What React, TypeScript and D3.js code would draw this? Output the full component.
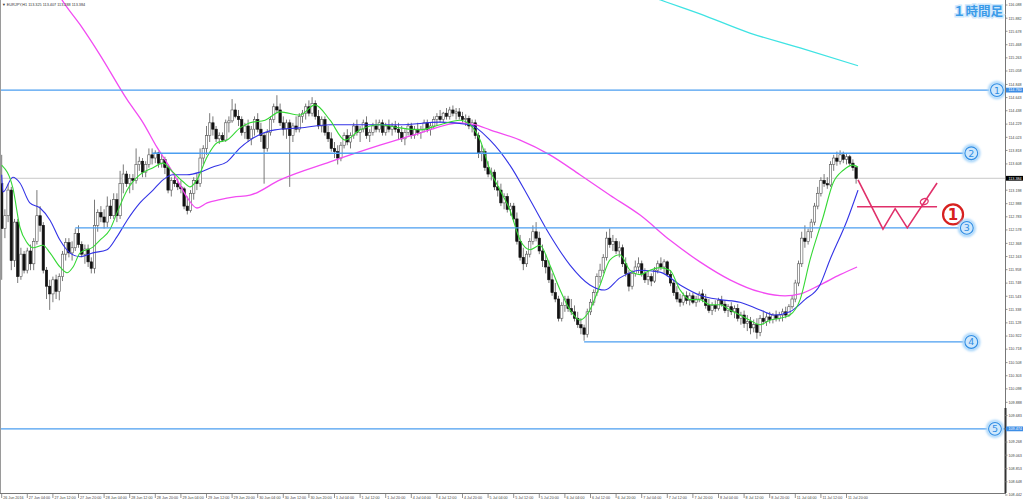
import React from 'react';
import * as d3 from 'd3';

type C = [number, number, number, number];

// ---- hourly candles (open, high, low, close) ----
const jun26: C[] = [
  [113.30,113.75,111.80,112.60],[112.60,112.90,112.45,112.80],[112.80,113.30,112.70,113.20],[113.20,113.25,111.95,112.10],
];
const jun27: C[] = [
  [112.10,112.75,112.00,112.70],[112.70,112.75,111.75,111.85],[111.85,112.30,111.80,112.20],[112.20,112.25,111.90,111.95],
  [111.95,112.30,111.90,112.25],[112.25,112.35,111.95,112.05],[112.05,112.45,111.95,112.40],[112.40,113.20,112.35,112.80],
  [112.80,112.95,112.55,112.65],[112.65,112.70,111.90,111.95],[111.95,112.00,111.50,111.70],[111.70,111.80,111.33,111.58],
  [111.58,111.85,111.45,111.80],[111.80,111.88,111.50,111.62],[111.62,111.90,111.48,111.85],[111.85,112.25,111.78,112.20],
  [112.20,112.45,112.10,112.38],[112.38,112.45,112.15,112.22],[112.22,112.40,112.10,112.30],[112.30,112.60,112.25,112.52],
  [112.52,112.65,112.30,112.35],[112.35,112.40,112.15,112.20],[112.20,112.35,112.05,112.28],[112.28,112.35,112.00,112.08],
];
const jun28: C[] = [
  [112.08,112.15,111.90,111.98],[111.98,113.05,111.90,112.65],[112.65,112.90,112.55,112.85],[112.85,112.95,112.70,112.78],
  [112.78,112.90,112.60,112.70],[112.70,113.10,112.62,112.95],[112.95,113.05,112.75,112.80],[112.80,113.15,112.75,113.05],
  [113.05,113.15,112.70,112.80],[112.80,113.50,112.75,113.30],[113.30,113.60,113.15,113.45],[113.45,113.50,113.25,113.30],
  [113.30,113.45,113.15,113.38],[113.38,113.45,113.20,113.35],[113.35,113.85,113.30,113.60],[113.60,113.72,113.50,113.65],
  [113.65,113.70,113.40,113.48],[113.48,113.65,113.40,113.60],[113.60,113.85,113.55,113.75],[113.75,113.85,113.60,113.70],
  [113.70,113.82,113.62,113.78],[113.78,113.80,113.55,113.62],[113.62,113.75,113.55,113.68],[113.68,113.72,113.45,113.55],
];
const jun29: C[] = [
  [113.55,113.60,113.15,113.20],[113.20,113.40,113.10,113.35],[113.35,113.45,113.25,113.30],[113.30,113.38,113.20,113.25],
  [113.25,113.35,113.15,113.22],[113.22,113.25,112.90,112.95],[112.95,113.10,112.82,112.88],[112.88,113.20,112.85,113.15],
  [113.15,113.40,113.05,113.35],[113.35,113.45,113.20,113.30],[113.30,113.85,113.25,113.70],[113.70,113.90,113.60,113.85],
  [113.85,114.20,113.75,114.05],[114.05,114.40,113.95,114.25],[114.25,114.35,114.05,114.15],[114.15,114.20,113.95,114.00],
  [114.00,114.10,113.92,114.05],[114.05,114.10,113.95,113.98],[113.98,114.30,113.95,114.25],[114.25,114.35,114.10,114.28],
  [114.28,114.62,114.25,114.45],[114.45,114.55,114.32,114.35],[114.35,114.45,114.20,114.30],[114.30,114.35,114.05,114.10],
];
const jun30: C[] = [
  [114.10,114.25,114.00,114.20],[114.20,114.30,113.95,114.00],[114.00,114.20,113.90,114.15],[114.15,114.35,114.05,114.30],
  [114.30,114.40,114.10,114.15],[114.15,114.25,113.95,114.05],[114.05,114.10,113.30,113.85],[113.85,114.15,113.80,114.10],
  [114.10,114.35,114.05,114.30],[114.30,114.55,114.25,114.50],[114.50,114.68,114.40,114.45],[114.45,114.55,114.20,114.25],
  [114.25,114.35,114.05,114.15],[114.15,114.30,114.00,114.25],[114.25,114.30,113.25,114.05],[114.05,114.25,113.95,114.20],
  [114.20,114.35,114.10,114.15],[114.15,114.40,114.10,114.35],[114.35,114.45,114.25,114.40],[114.40,114.55,114.30,114.50],
  [114.50,114.60,114.35,114.40],[114.40,114.65,114.35,114.55],[114.55,114.60,114.30,114.35],[114.35,114.45,114.15,114.20],
];
const jul1: C[] = [
  [114.20,114.35,114.10,114.30],[114.30,114.35,114.05,114.10],[114.10,114.20,113.95,114.00],[114.00,114.10,113.80,113.85],
  [113.85,113.95,113.70,113.80],[113.80,113.90,113.60,113.70],[113.70,113.95,113.65,113.90],[113.90,114.10,113.85,114.05],
  [114.05,114.15,113.90,113.95],[113.95,114.10,113.85,114.05],[114.05,114.25,114.00,114.20],[114.20,114.30,114.05,114.10],
  [114.10,114.20,113.95,114.15],[114.15,114.30,114.10,114.25],[114.25,114.35,114.00,114.05],[114.05,114.15,113.95,114.10],
  [114.10,114.25,114.05,114.20],[114.20,114.30,114.10,114.15],[114.15,114.30,114.10,114.25],[114.25,114.30,114.05,114.10],
  [114.10,114.25,114.05,114.20],[114.20,114.30,114.10,114.15],[114.15,114.25,114.05,114.20],[114.20,114.28,114.10,114.15],
];
const jul4: C[] = [
  [114.15,114.25,113.98,114.10],[114.10,114.20,113.95,114.00],[114.00,114.15,113.90,114.10],[114.10,114.25,114.05,114.20],
  [114.20,114.25,114.00,114.05],[114.05,114.20,114.00,114.15],[114.15,114.25,114.05,114.10],[114.10,114.20,114.00,114.15],
  [114.15,114.30,114.10,114.25],[114.25,114.30,114.10,114.15],[114.15,114.25,114.05,114.20],[114.20,114.35,114.15,114.30],
  [114.30,114.40,114.20,114.35],[114.35,114.45,114.25,114.30],[114.30,114.42,114.25,114.40],[114.40,114.48,114.30,114.35],
  [114.35,114.50,114.30,114.45],[114.45,114.52,114.35,114.40],[114.40,114.48,114.30,114.42],[114.42,114.48,114.30,114.35],
  [114.35,114.42,114.25,114.30],[114.30,114.38,114.20,114.32],[114.32,114.36,114.15,114.20],[114.20,114.30,114.10,114.25],
];
const jul5: C[] = [
  [114.25,114.30,114.00,114.05],[114.05,114.10,113.70,113.78],[113.78,113.90,113.65,113.80],[113.80,113.85,113.50,113.55],
  [113.55,113.65,113.40,113.45],[113.45,113.55,113.35,113.48],[113.48,113.52,113.20,113.25],[113.25,113.35,113.10,113.20],
  [113.20,113.30,112.95,113.00],[113.00,113.15,112.90,113.10],[113.10,113.15,112.85,112.90],[112.90,113.00,112.80,112.95],
  [112.95,113.00,112.70,112.75],[112.75,112.85,112.35,112.40],[112.40,112.50,112.10,112.15],[112.15,112.30,111.95,112.05],
  [112.05,112.25,112.00,112.20],[112.20,112.45,112.15,112.40],[112.40,112.65,112.35,112.55],[112.55,112.70,112.40,112.45],
  [112.45,112.55,112.20,112.25],[112.25,112.35,112.00,112.10],[112.10,112.20,111.90,112.00],[112.00,112.10,111.75,111.80],
];
const jul6: C[] = [
  [111.80,111.90,111.55,111.60],[111.60,111.75,111.45,111.50],[111.50,111.55,111.15,111.20],[111.20,111.45,111.15,111.40],
  [111.40,111.55,111.30,111.50],[111.50,111.55,111.30,111.35],[111.35,111.50,111.25,111.30],[111.30,111.40,111.15,111.20],
  [111.20,111.30,111.05,111.10],[111.10,111.20,110.95,111.05],[111.05,111.10,110.85,110.95],[110.95,111.35,110.90,111.30],
  [111.30,111.50,111.25,111.45],[111.45,111.65,111.40,111.60],[111.60,111.90,111.55,111.85],[111.85,112.05,111.75,111.95],
  [111.95,112.20,111.90,112.15],[112.15,112.55,112.10,112.45],[112.45,112.60,112.30,112.35],[112.35,112.50,112.25,112.40],
  [112.40,112.45,112.20,112.25],[112.25,112.40,112.15,112.30],[112.30,112.35,112.00,112.05],[112.05,112.15,111.85,111.90],
];
const jul7: C[] = [
  [111.90,111.95,111.62,111.70],[111.70,111.95,111.65,111.90],[111.90,112.10,111.85,112.00],[112.00,112.15,111.90,112.05],
  [112.05,112.10,111.85,111.90],[111.90,111.98,111.75,111.80],[111.80,111.95,111.72,111.85],[111.85,111.90,111.70,111.78],
  [111.78,112.00,111.75,111.95],[111.95,112.10,111.90,112.05],[112.05,112.15,111.95,112.00],[112.00,112.12,111.90,112.08],
  [112.08,112.10,111.85,111.88],[111.88,111.95,111.70,111.75],[111.75,111.80,111.55,111.60],[111.60,111.70,111.45,111.50],
  [111.50,111.58,111.38,111.45],[111.45,111.60,111.40,111.55],[111.55,111.62,111.42,111.48],[111.48,111.60,111.40,111.55],
  [111.55,111.60,111.42,111.45],[111.45,111.55,111.38,111.50],[111.50,111.62,111.45,111.58],[111.58,111.65,111.45,111.50],
];
const jul8: C[] = [
  [111.50,111.58,111.35,111.40],[111.40,111.50,111.28,111.32],[111.32,111.45,111.25,111.40],[111.40,111.48,111.30,111.35],
  [111.35,111.52,111.32,111.48],[111.48,111.55,111.38,111.42],[111.42,111.48,111.28,111.32],[111.32,111.42,111.22,111.38],
  [111.38,111.45,111.25,111.30],[111.30,111.40,111.20,111.35],[111.35,111.42,111.15,111.20],[111.20,111.30,111.10,111.25],
  [111.25,111.32,111.05,111.12],[111.12,111.25,111.00,111.15],[111.15,111.22,110.95,111.05],[111.05,111.18,110.98,111.10],
  [111.10,111.20,110.88,110.98],[110.98,111.25,110.92,111.20],[111.20,111.30,111.10,111.15],[111.15,111.28,111.08,111.22],
  [111.22,111.30,111.12,111.18],[111.18,111.28,111.12,111.25],[111.25,111.32,111.15,111.20],[111.20,111.30,111.15,111.25],
];
const jul11: C[] = [
  [111.25,111.35,111.15,111.30],[111.30,111.38,111.20,111.25],[111.25,111.42,111.22,111.38],[111.38,111.55,111.35,111.50],
  [111.50,111.80,111.45,111.75],[111.75,112.10,111.70,112.05],[112.05,112.55,112.00,112.45],[112.45,112.65,112.30,112.40],
  [112.40,112.60,112.35,112.55],[112.55,112.75,112.45,112.70],[112.70,113.00,112.65,112.95],[112.95,113.25,112.90,113.15],
  [113.15,113.40,113.10,113.35],[113.35,113.45,113.25,113.30],[113.30,113.40,113.22,113.28],[113.28,113.65,113.25,113.60],
  [113.60,113.75,113.50,113.70],[113.70,113.80,113.58,113.65],[113.65,113.82,113.60,113.75],[113.75,113.80,113.62,113.68],
  [113.68,113.78,113.60,113.72],[113.72,113.75,113.58,113.62],[113.62,113.68,113.50,113.55],[113.55,113.58,113.30,113.38],
];

// ---- moving averages, read as [bar index, price] ----
const maFast: [number, number][] = [
  [0,113.59],[3.5,113.23],[5.7,112.62],[7.9,112.38],[9.8,112.30],[12.9,112.34],[15.1,112.22],[18.2,112.00],[20.4,111.91],
  [22.3,112.00],[24.5,112.22],[28.5,112.31],[30.7,112.42],[33.8,112.58],[36,112.84],[39.2,113.20],[43.2,113.44],[47.3,113.55],
  [50.4,113.62],[53.5,113.48],[56.7,113.33],[58.9,113.25],[61,113.36],[64.2,113.72],[67.3,113.94],[70.4,113.98],[74.5,114.17],
  [77.6,114.25],[82.3,114.29],[87,114.42],[93.2,114.37],[97.9,114.53],[102.6,114.29],[107.3,113.98],[112,114.14],[118.2,114.22],
  [124.5,114.17],[130.7,114.14],[137,114.22],[143.2,114.29],[146.3,114.22],[149.5,113.98],[152.6,113.51],[155.7,113.20],
  [158.8,112.89],[162,112.42],[165.1,112.27],[168.2,112.34],[171.3,112.03],[174.5,111.64],[177.6,111.33],[180.7,111.17],
  [183.8,111.33],[187,111.72],[190.1,112.11],[193.2,112.19],[196.3,111.95],[199.5,111.88],[202.6,111.95],[205.7,111.99],
  [208.8,111.95],[212,111.64],[215.1,111.49],[218.2,111.49],[221.3,111.41],[224.5,111.41],[227.6,111.33],[230.7,111.25],
  [233.8,111.17],[237,111.10],[240.1,111.17],[243.2,111.20],[246.3,111.25],[249.5,111.49],[252.6,112.11],[256.7,112.78],
  [259.8,113.31],[263,113.51],[266,113.59],[267.6,113.56],
];
const maMid: [number, number][] = [
  [0,113.44],[0.4,113.17],[3.5,113.40],[5.7,113.31],[8.8,113.00],[12,112.92],[15.1,112.73],[18.2,112.42],[21.3,112.22],
  [24.5,112.16],[28.5,112.22],[32.9,112.27],[36,112.47],[39.2,112.73],[43.2,113.00],[47.3,113.20],[50.4,113.36],[53.5,113.44],
  [57.9,113.44],[62,113.48],[66,113.56],[70.4,113.64],[74.5,113.86],[77.6,113.98],[85.4,114.14],[93.2,114.17],[102.6,114.22],
  [112,114.22],[124.5,114.22],[137,114.26],[146.3,114.22],[152.6,113.98],[158.8,113.59],[165.1,113.05],[171.3,112.50],
  [177.6,112.03],[183.8,111.72],[188.5,111.64],[193.2,111.83],[199.5,111.95],[205.7,111.92],[212,111.72],[218.2,111.56],
  [224.5,111.49],[230.7,111.45],[237,111.33],[241.7,111.25],[246.3,111.30],[251,111.49],[255.7,111.72],[258.8,112.11],
  [264.2,112.73],[267.6,113.20],
];
const maSlow: [number, number][] = [
  [16.7,116.35],[18.8,116.17],[24.5,115.78],[30.7,115.31],[39.2,114.61],[44.2,114.25],[48.5,113.87],[51.7,113.62],
  [54.8,113.36],[57.9,113.09],[61,112.92],[64.2,113.00],[68.2,113.05],[72.3,113.09],[77.6,113.12],[87,113.36],[102.6,113.64],
  [118.2,113.90],[130.7,114.09],[143.2,114.25],[147.9,114.22],[152.6,114.14],[162,113.98],[171.3,113.75],[180.7,113.44],
  [190.1,113.12],[199.5,112.81],[208.8,112.42],[218.2,112.08],[227.6,111.80],[237,111.61],[244.8,111.55],[249.5,111.58],
  [255.7,111.72],[262,111.88],[267.3,112.00],
];
const maLong: [number, number][] = [
  [199.5,116.29],[205.7,116.17],[218.2,115.95],[233.8,115.65],[249.5,115.42],[267.6,115.14],
];

// ---- levels, annotations ----
const currentPrice = 113.384;
const levelNums = [1, 2, 3, 4, 5];
const levelPrices = [114.76, 113.775, 112.61, 110.83, 109.474];
const levelStart = [null, 47, 23, 182, null];
const levelEnd = [311, 303, 301.6, 303, 310.4];
const levelLabels = ['114.760', '', '', '', '109.474'];

const wPattern: [number, number][] = [[267.6,113.36],[275.4,112.59],[279.2,112.91],[283,112.61],[292.3,113.31]];
const neckline: [number, number][] = [[267.3,112.94],[292.3,112.94]];
const breakMark: [number, number] = [288.3, 113.02];
const redMark: [number, number] = [297.3, 112.82];

// ---- axis texts ----
const priceTicks = ["116.088","115.882","115.678","115.468","115.263","115.058","114.848","114.643","114.438","114.229",
  "114.023","113.818","113.608","113.403","113.198","112.988","112.783","112.578","112.368","112.163","111.958","111.748",
  "111.543","111.338","111.128","110.922","110.718","110.508","110.303","110.098","109.888","109.683","109.473","109.268",
  "109.063","108.853","108.648","108.442"];
const timeTicks = ["26 Jun 2016","27 Jun 04:00","27 Jun 12:00","27 Jun 20:00","28 Jun 04:00","28 Jun 12:00","28 Jun 20:00",
  "29 Jun 04:00","29 Jun 12:00","29 Jun 20:00","30 Jun 04:00","30 Jun 12:00","30 Jun 20:00","1 Jul 04:00","1 Jul 12:00",
  "1 Jul 20:00","4 Jul 04:00","4 Jul 12:00","4 Jul 20:00","5 Jul 04:00","5 Jul 12:00","5 Jul 20:00","6 Jul 04:00",
  "6 Jul 12:00","6 Jul 20:00","7 Jul 04:00","7 Jul 12:00","7 Jul 20:00","8 Jul 04:00","8 Jul 12:00","8 Jul 20:00",
  "11 Jul 04:00","11 Jul 12:00","11 Jul 20:00"];
const barsPerTick = 8;
const headerText = "\u25BC EURJPY,H1  113.325 113.407 113.288 113.384";
const titleText = "１時間足";

export default function App() {
  const candles: C[] = [...jun26, ...jun27, ...jun28, ...jun29, ...jun30, ...jul1, ...jul4, ...jul5, ...jul6, ...jul7, ...jul8, ...jul11];
  const W = 1024, H = 504;
  const axisX = 1005, axisY = 493;
  const x = d3.scaleLinear().domain([0, candles.length - 1]).range([1.7, 1.7 + 3.2 * (candles.length - 1)]);
  const y = d3.scaleLinear().domain([108.442, 116.088]).range([495, 5]);
  const line = d3.line<[number, number]>().x(d => x(d[0])).y(d => y(d[1])).curve(d3.curveMonotoneX);
  const straight = d3.line<[number, number]>().x(d => x(d[0])).y(d => y(d[1]));
  const bodyW = 2.4;
  const font = "'Liberation Sans', Arial, sans-serif";
  const fs = 3.7;
  const hidden = [currentPrice, levelPrices[0], levelPrices[4]];
  const visibleTicks = priceTicks.filter(t => !hidden.some(h => Math.abs(y(+t) - y(h)) < 3.2));

  return (
    <svg width={W} height={H} style={{ position: 'fixed', left: 0, top: 0, background: '#fff' }} xmlns="http://www.w3.org/2000/svg">
      <defs>
        <clipPath id="plot"><rect x={0} y={0} width={axisX} height={axisY} /></clipPath>
        <filter id="glow" x="-50%" y="-50%" width="200%" height="200%">
          <feGaussianBlur stdDeviation="1.2" />
        </filter>
      </defs>
      <rect x={0} y={0} width={W} height={H} fill="#fff" />
      <g clipPath="url(#plot)">
        <line x1={0} x2={axisX} y1={y(currentPrice)} y2={y(currentPrice)} stroke="#c8c8c8" strokeWidth={1} />
        {candles.map((c, i) => {
          const [o, h, l, cl] = c;
          const up = cl >= o;
          const top = y(Math.max(o, cl)), bot = y(Math.min(o, cl));
          const cx = x(i);
          return (
            <g key={i}>
              <line x1={cx} x2={cx} y1={y(h)} y2={y(l)} stroke="#6a6a6a" strokeWidth={0.9} />
              <rect x={cx - bodyW / 2} y={top} width={bodyW} height={Math.max(0.8, bot - top)}
                fill={up ? '#ffffff' : '#111111'} stroke={up ? '#555' : '#111'} strokeWidth={0.6} />
            </g>
          );
        })}
        <path d={line(maLong) || ''} fill="none" stroke="#3fe3e3" strokeWidth={1.3} />
        <path d={line(maSlow) || ''} fill="none" stroke="#f24bf2" strokeWidth={1.3} />
        <path d={line(maMid) || ''} fill="none" stroke="#3333e6" strokeWidth={1.1} />
        <path d={line(maFast) || ''} fill="none" stroke="#35d835" strokeWidth={1.1} />
        {levelPrices.map((p, k) => (
          <line key={'lv' + k} x1={levelStart[k] == null ? 0 : x(levelStart[k] as number)}
            x2={levelStart[k] == null ? axisX : x(levelEnd[k])} y1={y(p)} y2={y(p)} stroke="#4b9ef0" strokeWidth={1.3} />
        ))}
        <path d={straight(neckline) || ''} fill="none" stroke="#e0306a" strokeWidth={1.6} />
        <path d={straight(wPattern) || ''} fill="none" stroke="#e0306a" strokeWidth={1.6} strokeLinejoin="miter" />
        <ellipse cx={x(breakMark[0])} cy={y(breakMark[1])} rx={4} ry={3} fill="none" stroke="#e0306a" strokeWidth={1.3}
          transform={`rotate(-20 ${x(breakMark[0])} ${y(breakMark[1])})`} />
        <circle cx={x(redMark[0])} cy={y(redMark[1])} r={10} fill="#fff" stroke="#d7201f" strokeWidth={2.2} />
        <text x={x(redMark[0])} y={y(redMark[1]) + 5.5} textAnchor="middle" fontSize={15} fontWeight="bold" fill="#d7201f" fontFamily="'DejaVu Sans', sans-serif">1</text>
        {levelPrices.map((p, k) => {
          const cx = x(levelEnd[k]), cy = y(p);
          return (
            <g key={'ln' + k}>
              <circle cx={cx} cy={cy} r={9.2} fill="#a9d6fa" filter="url(#glow)" />
              <circle cx={cx} cy={cy} r={7.6} fill="#cfe8fc" />
              <circle cx={cx} cy={cy} r={6.4} fill="none" stroke="#2f8de4" strokeWidth={1.1} />
              <text x={cx} y={cy + 3.4} textAnchor="middle" fontSize={9.5} fill="#2f8de4" fontFamily="'DejaVu Sans', sans-serif">{levelNums[k]}</text>
            </g>
          );
        })}
      </g>
      <line x1={0.5} x2={0.5} y1={0} y2={axisY} stroke="#9a9a9a" strokeWidth={1} />
      <line x1={axisX + 0.5} x2={axisX + 0.5} y1={0} y2={axisY} stroke="#777" strokeWidth={1} />
      <line x1={axisX + 0.5} x2={axisX + 0.5} y1={408} y2={axisY} stroke="#333" strokeWidth={2} />
      {priceTicks.map((t, k) => (
        <line key={'pk' + k} x1={axisX} x2={axisX + 2.5} y1={y(+t)} y2={y(+t)} stroke="#777" strokeWidth={0.8} />
      ))}
      {visibleTicks.map((t, k) => (
        <text key={'pt' + k} x={axisX + 3.5} y={y(+t) + 1.3} fontSize={fs} fill="#444" fontFamily={font}>{t}</text>
      ))}
      {levelLabels.map((lab, k) => lab ? (
        <g key={'hl' + k}>
          <rect x={axisX + 1} y={y(levelPrices[k]) - 2.4} width={17} height={4.8} fill="#3d8ee6" />
          <text x={axisX + 3.5} y={y(levelPrices[k]) + 1.3} fontSize={fs} fill="#fff" fontFamily={font}>{lab}</text>
        </g>
      ) : null)}
      <rect x={axisX + 1} y={y(currentPrice) - 2.4} width={17} height={4.8} fill="#000" />
      <text x={axisX + 3.5} y={y(currentPrice) + 1.3} fontSize={fs} fill="#fff" fontFamily={font}>{currentPrice.toFixed(3)}</text>
      <line x1={0} x2={axisX + 1} y1={axisY + 0.5} y2={axisY + 0.5} stroke="#777" strokeWidth={1} />
      {timeTicks.map((t, k) => {
        const xx = x(k * barsPerTick);
        return (
          <g key={'tt' + k}>
            <line x1={xx} x2={xx} y1={axisY} y2={axisY + 5} stroke="#777" strokeWidth={0.8} />
            <text x={xx + 1.5} y={axisY + 6.3} fontSize={fs} fill="#444" fontFamily={font}>{t}</text>
          </g>
        );
      })}
      <text x={2} y={6} fontSize={3.8} fill="#333" fontFamily={font}>{headerText}</text>
      <text x={1003} y={15.5} textAnchor="end" fontSize={12.5} fontWeight="bold" fill="#3b9be9"
        stroke="#cfe8fc" strokeWidth={3} paintOrder="stroke" fontFamily="'Noto Sans CJK JP', sans-serif">{titleText}</text>
    </svg>
  );
}
